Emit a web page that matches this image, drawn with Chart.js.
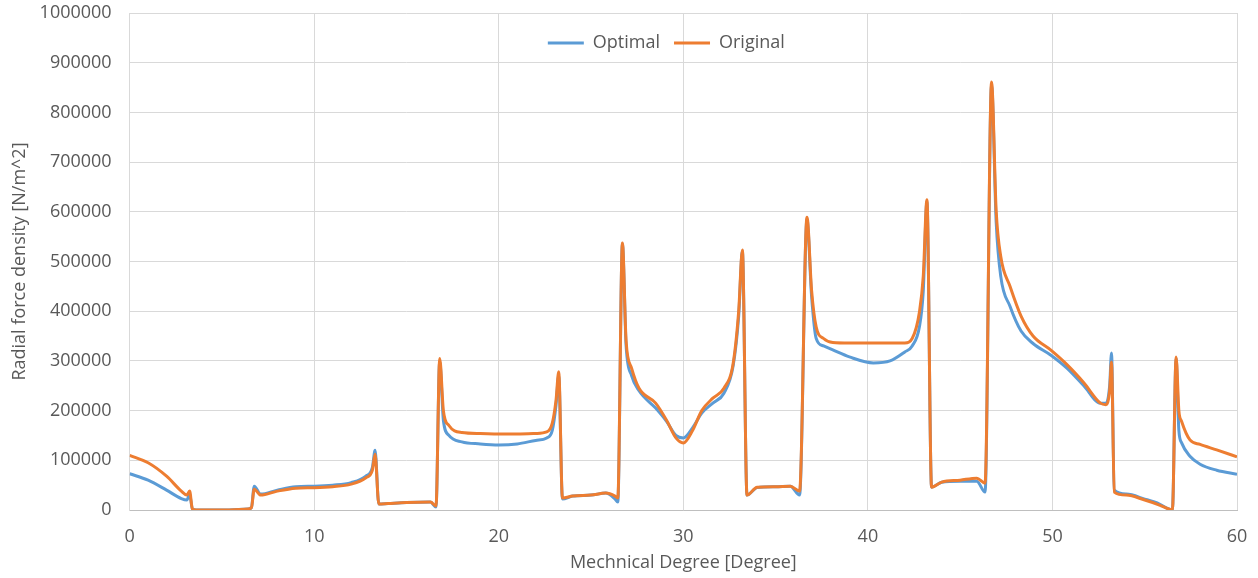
<!DOCTYPE html>
<html lang="en">
  <head>
    <meta charset="UTF-8" />
    <title>Radial force density</title>
    <script src="https://cdn.jsdelivr.net/npm/chart.js"></script>
    <style>
      * {
        margin: 0;
        padding: 0;
      }
      body {
        background: #fff;
      }
      .graph {
        width: 1258px;
        height: 578px;
      }
    </style>
  </head>
  <body>
    <div class="graph">
      <canvas id="chartline"></canvas>
    </div>

    <script>
      // Mechanical degree (x) shared by both series
      var degrees = [
        0, 1, 2, 2.8, 3.1, 3.25, 3.4, 3.6, 5, 6.4, 6.6, 6.75, 7.1, 8, 9, 10, 11, 12, 12.8, 13.15, 13.3,
        13.5, 14, 15, 16.3, 16.6, 16.8, 17.0, 17.3, 18, 19, 20, 21, 22, 22.6, 22.9, 23.1, 23.25, 23.45,
        24, 25, 25.8, 26.3, 26.45, 26.7, 26.9, 27.2, 27.6, 28.5, 29.1, 29.6, 30, 30.5, 31, 31.6, 32.2,
        32.7, 33.0, 33.2, 33.45, 34, 35, 35.8, 36.3, 36.7, 36.95, 37.2, 37.6, 38.1, 39, 40.3, 41.2, 42,
        42.4, 42.8, 43.0, 43.2, 43.45, 44, 45, 45.9, 46.35, 46.7, 46.95, 47.2, 47.7, 48.3, 48.95, 49.9,
        50.8, 51.7, 52.6, 52.9, 53.1, 53.2, 53.35, 54, 55, 55.8, 56.3, 56.5, 56.7, 56.85, 57.0, 57.45,
        58, 58.9, 60
      ];
      var optimal = [
        73000, 60000, 40000, 23000, 20000, 32000, 2000, 0, 0, 2000, 5000, 48000, 32000, 40000, 47000,
        48000, 50000, 55000, 68000, 85000, 120000,
        12000, 13000, 15000, 16000, 6000, 300000, 180000, 150000, 137000, 133000, 131000, 133000,
        140000, 145000, 160000, 210000, 270000, 22000,
        28000, 30000, 34000, 22000, 16000, 535000, 330000, 270000, 240000, 205000, 178000, 150000,
        145000, 165000, 195000, 215000, 235000,
        290000, 390000, 520000, 30000, 45000, 47000, 48000, 30000, 585000, 430000, 345000, 330000,
        322000, 308000, 296000, 300000, 318000,
        330000, 370000, 440000, 620000, 46000, 56000, 58000, 58000, 36000, 855000, 580000, 470000,
        410000, 360000, 335000, 312000,
        285000, 250000, 215000, 215000, 250000, 316000, 40000, 32000, 22000, 12000, 2000, 0, 305000,
        160000, 135000, 108000,
        92000, 80000, 72000
      ];
      var original = [
        110000, 95000, 68000, 38000, 30000, 38000, 2000, 0, 0, 2000, 5000, 42000, 30000, 38000, 44000,
        45000, 47000, 52000, 65000, 80000, 112000,
        12000, 13000, 15000, 16000, 8000, 305000, 200000, 170000, 156000, 154000, 153000, 153000,
        154000, 157000, 175000, 220000, 278000, 24000,
        28000, 30000, 34000, 28000, 24000, 537000, 340000, 285000, 245000, 215000, 180000, 145000,
        135000, 160000, 200000, 225000, 245000,
        295000, 400000, 523000, 30000, 46000, 47000, 48000, 38000, 589000, 442000, 368000, 345000,
        337000, 336000, 336000, 336000, 336000,
        345000, 400000, 470000, 624000, 46000, 56000, 60000, 64000, 54000, 861000, 603000, 510000,
        450000, 390000, 350000, 322000,
        292000, 256000, 215000, 212000, 240000, 298000, 36000, 30000, 20000, 10000, 2000, 0, 308000,
        200000, 178000, 141000,
        132000, 121000, 107000
      ];

      function toPoints(values) {
        return degrees.map(function (d, i) {
          return { x: d, y: values[i] };
        });
      }

      // keep the legend inside the plot, near the top, without taking layout space
      var legendInside = {
        id: 'legendInside',
        afterInit: function (chart) {
          var lg = chart.legend;
          var fit = lg.fit;
          lg.fit = function () {
            fit.call(this);
            this.height = 0;
          };
        },
        afterLayout: function (chart) {
          var lg = chart.legend;
          var area = chart.chartArea;
          lg.top = area.top + 7;
          lg.height = 34;
          lg.bottom = lg.top + 34;
          lg.left = area.left - 17;
          lg.right = area.right - 17;
        }
      };

      var grey = '#595959';
      var font = { family: 'Open Sans', size: 18 };
      var ctx = document.getElementById('chartline').getContext('2d');
      var myChart = new Chart(ctx, {
        type: 'line',
        data: {
          datasets: [
            {
              label: 'Optimal',
              data: toPoints(optimal),
              borderColor: '#5B9BD5',
              backgroundColor: '#5B9BD5',
              borderWidth: 3,
              order: 1
            },
            {
              label: 'Original',
              data: toPoints(original),
              borderColor: '#ED7D31',
              backgroundColor: '#ED7D31',
              borderWidth: 3,
              order: 0
            }
          ]
        },
        plugins: [legendInside],
        options: {
          responsive: true,
          maintainAspectRatio: false,
          animation: false,
          layout: {
            padding: { top: 13, right: 21, left: 8, bottom: 0 }
          },
          elements: {
            point: { radius: 0 },
            line: { cubicInterpolationMode: 'monotone' }
          },
          plugins: {
            tooltip: { enabled: false },
            legend: {
              position: 'top',
              fullSize: false,
              align: 'center',
              labels: {
                usePointStyle: true,
                pointStyle: 'line',
                pointStyleWidth: 36,
                color: grey,
                font: font,
                padding: 14,
                sort: function (a, b) {
                  return a.datasetIndex - b.datasetIndex;
                }
              }
            }
          },
          scales: {
            x: {
              type: 'linear',
              min: 0,
              max: 60,
              ticks: {
                stepSize: 10,
                color: grey,
                padding: 0,
                font: font
              },
              grid: {
                color: '#d9d9d9',
                drawTicks: true,
                tickLength: 16,
                tickColor: 'rgba(0,0,0,0)'
              },
              border: { color: '#bfbfbf' },
              title: {
                display: true,
                text: 'Mechnical Degree [Degree]',
                color: grey,
                font: font,
                padding: { top: 4.6, bottom: 4.2 }
              }
            },
            y: {
              min: 0,
              max: 1000000,
              ticks: {
                stepSize: 100000,
                color: grey,
                padding: 0,
                font: font,
                callback: function (v) {
                  return String(v);
                }
              },
              grid: {
                color: '#d9d9d9',
                drawTicks: true,
                tickLength: 18,
                tickColor: 'rgba(0,0,0,0)'
              },
              border: { color: '#d9d9d9' },
              title: {
                display: true,
                text: 'Radial force density [N/m^2]',
                color: grey,
                font: font,
                padding: { top: 1, bottom: 9 }
              }
            }
          }
        }
      });
    </script>
  </body>
</html>
